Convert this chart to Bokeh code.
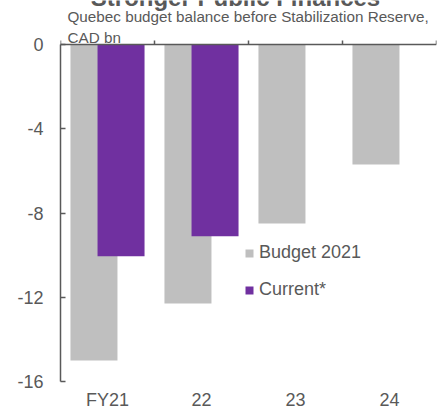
from bokeh.plotting import figure
from bokeh.models import (Range1d, LinearAxis, FixedTicker, Label, Legend, LegendItem,
                          ColumnDataSource)
from bokeh.embed import file_html
from bokeh.resources import INLINE

# ---- data ----
categories = ["FY21", "22", "23", "24"]
budget_2021 = [-15.0, -12.3, -8.5, -5.7]
current = [-10.05, -9.1]
y_ticks = [0, -4, -8, -12, -16]
y_tick_labels = ["0", "-4", "-8", "-12", "-16"]

title_text = "Stronger Public Finances"
subtitle_1 = "Quebec budget balance before Stabilization Reserve,"
subtitle_2 = "CAD bn"

GRAY = "#BFBFBF"
PURPLE = "#7030A0"
TXT = "#595959"
FONT = "Liberation Sans"

n = len(categories)
offset = 0.144
bar_w = 0.5

# layout: zero line at 44px, -16 at 381px, frame starts at canvas top
zero_px, bottom_px = 44, 381
ymin = min(y_ticks)
ppu = (bottom_px - zero_px) / (0 - ymin)
ytop = zero_px / ppu

p = figure(width=445, height=412, output_backend="svg", toolbar_location=None,
           x_range=Range1d(0, n), y_range=Range1d(ymin, ytop),
           x_axis_location=None, y_axis_location=None,
           min_border_left=60, min_border_right=9, min_border_top=0, min_border_bottom=31)
p.outline_line_color = None
p.grid.visible = False
p.background_fill_color = "white"
p.border_fill_color = "white"

src_b = ColumnDataSource(dict(x=[i + 0.5 - offset for i in range(n)], v=budget_2021))
src_c = ColumnDataSource(dict(x=[i + 0.5 + offset for i in range(len(current))], v=current))

rb = p.vbar(x="x", width=bar_w, top=0, bottom="v", source=src_b,
            fill_color=GRAY, line_color=None)
rc = p.vbar(x="x", width=bar_w, top=0, bottom="v", source=src_c,
            fill_color=PURPLE, line_color=None)

# left axis
yax = LinearAxis(ticker=FixedTicker(ticks=y_ticks), bounds=(ymin, 0))
yax.major_label_overrides = dict(zip(y_ticks, y_tick_labels))
yax.major_tick_in = 5
yax.major_tick_out = 0
yax.minor_tick_line_color = None
yax.axis_line_color = TXT
yax.axis_line_width = 1.5
yax.major_tick_line_color = TXT
yax.major_tick_line_width = 1.5
yax.major_label_standoff = 17
yax.major_label_text_font = FONT
yax.major_label_text_font_size = "18px"
yax.major_label_text_color = TXT
p.add_layout(yax, "left")

# category axis at zero
tax = LinearAxis(ticker=FixedTicker(ticks=list(range(n + 1))), fixed_location=0)
tax.major_label_overrides = {i: "" for i in range(n + 1)}
tax.major_tick_in = 4
tax.major_tick_out = 0
tax.minor_tick_line_color = None
tax.axis_line_color = TXT
tax.axis_line_width = 1.5
tax.major_tick_line_color = TXT
tax.major_tick_line_width = 1.5
tax.major_label_standoff = 0
p.add_layout(tax, "below")

# bottom category labels
bax = LinearAxis(ticker=FixedTicker(ticks=[i + 0.5 for i in range(n)]))
bax.major_label_overrides = {i + 0.5: c for i, c in enumerate(categories)}
bax.axis_line_color = None
bax.major_tick_line_color = None
bax.minor_tick_line_color = None
bax.major_label_standoff = 2
bax.major_label_text_font = FONT
bax.major_label_text_font_size = "18px"
bax.major_label_text_color = TXT
p.add_layout(bax, "below")

# titles
def ydata(py):
    return ytop - py / ppu
def xdata(px):
    return (px - 60) / 94.0

p.add_layout(Label(x=xdata(235), y=ydata(-3), text=title_text, text_font=FONT,
                   text_font_size="24px", text_font_style="bold", text_color=TXT,
                   text_align="center", text_baseline="alphabetic"))
p.add_layout(Label(x=xdata(67), y=ydata(16), text=subtitle_1, text_font=FONT,
                   text_font_size="15.25px", text_color=TXT,
                   text_align="left", text_baseline="alphabetic"))
p.add_layout(Label(x=xdata(67), y=ydata(37), text=subtitle_2, text_font=FONT,
                   text_font_size="15.25px", text_color=TXT,
                   text_align="left", text_baseline="alphabetic"))

legend = Legend(items=[LegendItem(label="Budget 2021", renderers=[rb]),
                       LegendItem(label="Current*", renderers=[rc])],
                location=(184, 81))
legend.glyph_width = 10
legend.glyph_height = 10
legend.label_height = 20
legend.spacing = 16
legend.padding = 0
legend.margin = 0
legend.label_standoff = 5
legend.border_line_color = None
legend.background_fill_alpha = 0
legend.label_text_font = FONT
legend.label_text_font_size = "18px"
legend.label_text_color = TXT
p.add_layout(legend, "center")

open("out.html", "w").write(file_html(p, INLINE))
